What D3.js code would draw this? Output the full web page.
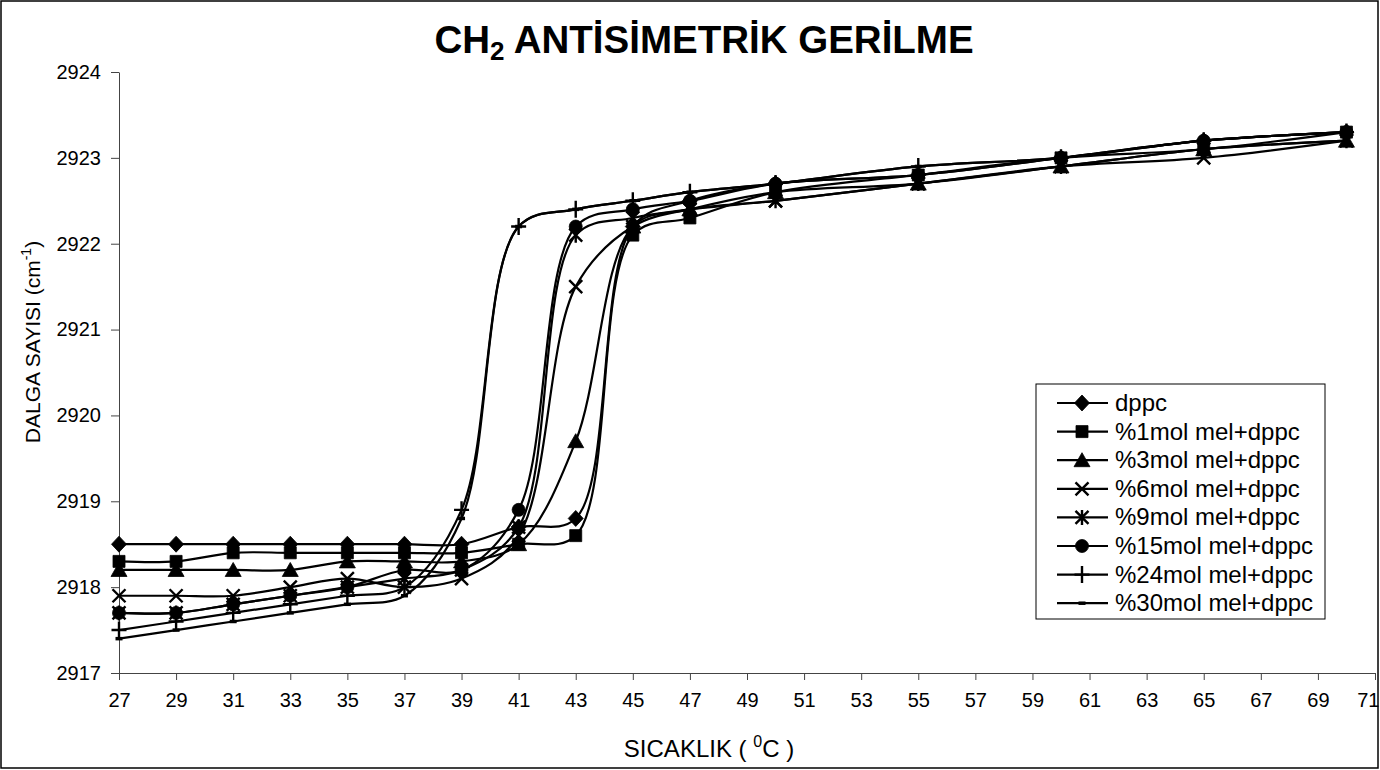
<!DOCTYPE html>
<html>
<head>
<meta charset="utf-8">
<script src="https://cdn.jsdelivr.net/npm/d3@7"></script>
<style>
  html, body { margin: 0; padding: 0; background: #fff; }
  svg { display: block; }
  svg text { font-family: "Liberation Sans", Arial, sans-serif; fill: #000; }
</style>
</head>
<body>
<svg id="chart" width="1380" height="770"></svg>
<script>
// ---------- data ----------
const temperatures = [27, 29, 31, 33, 35, 37, 39, 41, 43, 45, 47, 50, 55, 60, 65, 70];
const xTickValues = [27,29,31,33,35,37,39,41,43,45,47,49,51,53,55,57,59,61,63,65,67,69,71];
const yTickValues = [2917, 2918, 2919, 2920, 2921, 2922, 2923, 2924];

const seriesNames = ["dppc", "%1mol mel+dppc", "%3mol mel+dppc", "%6mol mel+dppc",
                     "%9mol mel+dppc", "%15mol mel+dppc", "%24mol mel+dppc", "%30mol mel+dppc"];
const seriesMarkers = ["diamond", "square", "triangle", "x", "asterisk", "circle", "plus", "dash"];

const dppc   = [2918.5, 2918.5, 2918.5, 2918.5, 2918.5, 2918.5, 2918.5, 2918.7, 2918.8, 2922.2, 2922.5, 2922.7, 2922.8, 2923.0, 2923.2, 2923.3];
const mel1   = [2918.3, 2918.3, 2918.4, 2918.4, 2918.4, 2918.4, 2918.4, 2918.5, 2918.6, 2922.1, 2922.3, 2922.6, 2922.8, 2923.0, 2923.1, 2923.3];
const mel3   = [2918.2, 2918.2, 2918.2, 2918.2, 2918.3, 2918.3, 2918.3, 2918.5, 2919.7, 2922.2, 2922.4, 2922.6, 2922.7, 2922.9, 2923.1, 2923.2];
const mel6   = [2917.9, 2917.9, 2917.9, 2918.0, 2918.1, 2918.0, 2918.1, 2918.6, 2921.5, 2922.2, 2922.4, 2922.5, 2922.7, 2922.9, 2923.0, 2923.2];
const mel9   = [2917.7, 2917.7, 2917.8, 2917.9, 2918.0, 2918.1, 2918.2, 2918.7, 2922.1, 2922.3, 2922.4, 2922.5, 2922.7, 2922.9, 2923.1, 2923.2];
const mel15  = [2917.7, 2917.7, 2917.8, 2917.9, 2918.0, 2918.2, 2918.2, 2918.9, 2922.2, 2922.4, 2922.5, 2922.7, 2922.8, 2923.0, 2923.2, 2923.3];
const mel24  = [2917.5, 2917.6, 2917.7, 2917.8, 2917.9, 2918.0, 2918.9, 2922.2, 2922.4, 2922.5, 2922.6, 2922.7, 2922.9, 2923.0, 2923.2, 2923.3];
const mel30  = [2917.4, 2917.5, 2917.6, 2917.7, 2917.8, 2917.9, 2918.8, 2922.2, 2922.4, 2922.5, 2922.6, 2922.7, 2922.9, 2923.0, 2923.2, 2923.3];

const seriesValues = [dppc, mel1, mel3, mel6, mel9, mel15, mel24, mel30];

// ---------- chart ----------
const FONT = "Liberation Sans, Arial, sans-serif";
const svg = d3.select("#chart");

svg.append("rect").attr("x", 1).attr("y", 1).attr("width", 1377).attr("height", 767)
  .attr("fill", "#fff").attr("stroke", "#000").attr("stroke-width", 1.5);

const x = d3.scaleLinear().domain([27, 71]).range([119, 1375]);
const y = d3.scaleLinear().domain([2917, 2924]).range([673, 72]);

const xAxis = svg.append("g").attr("transform", `translate(0,${y(2917)})`)
  .call(d3.axisBottom(x).tickValues(xTickValues).tickSize(7).tickSizeOuter(0).tickPadding(13).tickFormat(d3.format("d")));
const yAxis = svg.append("g").attr("transform", `translate(${x(27)},0)`)
  .call(d3.axisLeft(y).tickValues(yTickValues).tickSize(8).tickSizeOuter(0).tickPadding(10).tickFormat(d3.format("d")));
[xAxis, yAxis].forEach(g => {
  g.attr("font-family", FONT).attr("font-size", 20);
  g.selectAll("path.domain").attr("stroke", "#444").attr("stroke-width", 1);
  g.selectAll(".tick line").attr("stroke", "#444").attr("stroke-width", 1);
  g.selectAll(".tick text").attr("font-size", 20).attr("fill", "#000");
});
xAxis.selectAll(".tick text").filter(d => d === 71).attr("text-anchor", "end").attr("x", 4);

function markerPath(type, s) {
  switch (type) {
    case "diamond": return `M0,${-8*s}L${7.5*s},0L0,${8*s}L${-7.5*s},0Z`;
    case "square": return `M${-6*s},${-6*s}h${12*s}v${12*s}h${-12*s}Z`;
    case "triangle": return `M0,${-7.5*s}L${8*s},${6.5*s}L${-8*s},${6.5*s}Z`;
    case "circle": return d3.symbol(d3.symbolCircle, Math.PI * Math.pow(6.5*s, 2))();
    default: return null;
  }
}
function drawMarker(g, type, cx, cy, s) {
  const filled = markerPath(type, s);
  if (filled) {
    g.append("path").attr("d", filled).attr("transform", `translate(${cx},${cy})`)
      .attr("fill", "#000").attr("stroke", "#000").attr("stroke-width", 0.8);
    return;
  }
  let d = "";
  if (type === "x") d = `M${-6.5*s},${-6.5*s}L${6.5*s},${6.5*s}M${6.5*s},${-6.5*s}L${-6.5*s},${6.5*s}`;
  if (type === "asterisk") d = `M${-6.5*s},${-6.5*s}L${6.5*s},${6.5*s}M${6.5*s},${-6.5*s}L${-6.5*s},${6.5*s}M0,${-7.5*s}L0,${7.5*s}`;
  if (type === "plus") d = `M${-7.5*s},0L${7.5*s},0M0,${-8.5*s}L0,${8.5*s}`;
  if (type === "dash") d = `M${-3.5*s},0L${3.5*s},0`;
  g.append("path").attr("d", d).attr("transform", `translate(${cx},${cy})`)
    .attr("fill", "none").attr("stroke", "#000").attr("stroke-width", type === "dash" ? 3.5 : 2.4);
}

const line = d3.line()
  .x(d => x(d[0])).y(d => y(d[1]))
  .curve(d3.curveCatmullRom.alpha(0.5));

seriesValues.forEach((vals, i) => {
  const pts = temperatures.map((t, j) => [t, vals[j]]);
  const g = svg.append("g").attr("class", "series");
  g.append("path").datum(pts).attr("d", line)
    .attr("fill", "none").attr("stroke", "#000").attr("stroke-width", 2.2);
  pts.forEach(p => drawMarker(g, seriesMarkers[i], x(p[0]), y(p[1]), 1));
});

const title = svg.append("text").attr("x", 704).attr("y", 53).attr("text-anchor", "middle")
  .attr("font-family", FONT).attr("font-size", 38.5).attr("font-weight", "bold");
title.append("tspan").text("CH");
title.append("tspan").attr("font-size", 26).attr("dy", 7).text("2");
title.append("tspan").attr("dy", -7).text(" ANTİSİMETRİK GERİLME");

const xt = svg.append("text").attr("x", 709).attr("y", 757).attr("text-anchor", "middle")
  .attr("font-family", FONT).attr("font-size", 24);
xt.append("tspan").text("SICAKLIK ( ");
xt.append("tspan").attr("font-size", 16).attr("dy", -10).text("0");
xt.append("tspan").attr("dy", 10).text("C )");

const yt = svg.append("text").attr("transform", "translate(40,342) rotate(-90)")
  .attr("text-anchor", "middle").attr("font-family", FONT).attr("font-size", 21);
yt.append("tspan").text("DALGA SAYISI (cm");
yt.append("tspan").attr("font-size", 14).attr("dy", -9).text("-1");
yt.append("tspan").attr("dy", 9).text(")");

const lg = svg.append("g");
lg.append("rect").attr("x", 1036).attr("y", 384).attr("width", 289).attr("height", 235)
  .attr("fill", "#fff").attr("stroke", "#000").attr("stroke-width", 1);
seriesNames.forEach((name, i) => {
  const cy = 403 + i * 28.6;
  lg.append("line").attr("x1", 1057).attr("x2", 1108).attr("y1", cy).attr("y2", cy)
    .attr("stroke", "#000").attr("stroke-width", 2.2);
  drawMarker(lg, seriesMarkers[i], 1082, cy, 1);
  lg.append("text").attr("x", 1115).attr("y", cy + 8).attr("font-family", FONT).attr("font-size", 24).text(name);
});
</script>
</body>
</html>
